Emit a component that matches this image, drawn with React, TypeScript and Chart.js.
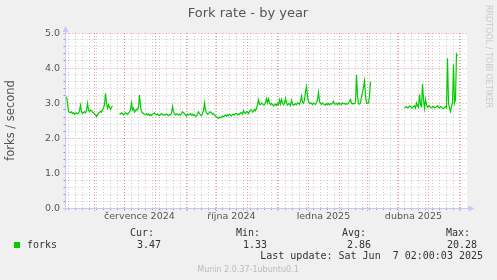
import React, { useEffect, useRef } from "react";
import Chart from "chart.js/auto";

// ---- data ----
const START = Date.UTC(2024, 4, 3, 2, 0, 3); // 400 days before last update
const DAY = 86400000;
const SPAN_DAYS = 400;

// Daily fork-rate readings (forks / second), grouped in the three periods with data.
const period1StartDay = 1;
const period1Rates = [
  3.18, 3.0, 2.75, 2.74, 2.72, 2.75, 2.7, 2.72, 2.68, 2.71, 2.72, 2.69, 2.7, 2.78, 2.94, 2.75, 2.7, 2.73, 2.75, 2.72,
  2.8, 2.99, 2.8, 2.75, 2.8, 2.78, 2.74, 2.72, 2.69, 2.66, 2.61, 2.66, 2.7, 2.73, 2.76, 2.74, 2.8, 2.85, 2.95, 3.28,
  3.0, 2.85, 2.95, 2.88, 2.82, 2.88, 2.92,
];
const period2StartDay = 54;
const period2Rates = [
  2.7, 2.68, 2.72, 2.7, 2.66, 2.69, 2.72, 2.7, 2.67, 2.71, 2.75, 2.8, 3.0, 2.8, 2.85, 2.74, 2.78, 2.82, 2.8, 2.9,
  3.23, 2.9, 2.75, 2.72, 2.7, 2.67, 2.66, 2.7, 2.66, 2.68, 2.64, 2.67, 2.64, 2.68, 2.7, 2.72, 2.67, 2.66, 2.69, 2.65,
  2.64, 2.67, 2.7, 2.68, 2.65, 2.67, 2.66, 2.69, 2.65, 2.64, 2.67, 2.66, 2.7, 2.9, 2.74, 2.7, 2.66, 2.69, 2.68, 2.65,
  2.68, 2.66, 2.7, 2.75, 2.72, 2.7, 2.66, 2.63, 2.68, 2.66, 2.68, 2.7, 2.65, 2.68, 2.64, 2.66, 2.63, 2.62, 2.68, 2.75,
  2.7, 2.66, 2.64, 2.7, 2.78, 3.0, 2.8, 2.72, 2.68, 2.7, 2.73, 2.75, 2.72, 2.68, 2.7, 2.65, 2.63, 2.6, 2.58, 2.56,
  2.6, 2.58, 2.6, 2.63, 2.61, 2.63, 2.66, 2.62, 2.66, 2.64, 2.68, 2.65, 2.63, 2.67, 2.68, 2.66, 2.7, 2.7, 2.66, 2.69,
  2.68, 2.72, 2.72, 2.68, 2.78, 2.72, 2.7, 2.75, 2.74, 2.7, 2.76, 2.8, 2.8, 2.74, 2.76, 2.82, 2.78, 2.85, 2.95, 3.09,
  2.96, 2.95, 3.0, 2.98, 2.94, 2.95, 3.0, 3.13, 3.0, 3.12, 3.0, 2.95, 2.99, 2.96, 2.92, 2.94, 2.97, 2.93, 2.98, 2.95,
  3.09, 2.97, 3.1, 3.0, 2.95, 3.0, 3.13, 3.0, 2.94, 2.98, 2.97, 2.93, 3.08, 2.97, 2.94, 2.96, 2.98, 2.95, 3.0, 2.99,
  2.96, 3.05, 3.2, 3.02, 2.99, 3.1, 3.32, 3.47, 3.2, 3.04, 2.98, 3.0, 2.99, 2.95, 3.0, 2.98, 2.96, 3.0, 3.1, 3.3,
  3.05, 2.99, 2.96, 3.0, 2.97, 2.95, 2.94, 2.98, 2.96, 2.99, 2.95, 2.98, 2.97, 3.0, 3.05, 2.98, 2.97, 2.99, 2.95, 3.0,
  2.97, 2.98, 2.96, 3.0, 2.98, 2.99, 2.96, 2.98, 2.97, 3.0, 3.05, 3.1, 3.0, 2.97, 2.99, 2.98, 3.0, 3.8, 3.2, 2.98,
  2.97, 3.0, 3.18, 3.3, 3.45, 3.64, 3.2, 3.0, 2.99, 3.0, 3.2, 3.61,
];
const period3StartDay = 339;
const period3Rates = [
  2.85, 2.88, 2.9, 2.86, 2.87, 2.92, 2.9, 2.88, 2.86, 2.9, 2.92, 2.85, 3.0, 2.92, 2.88, 3.25, 2.95, 2.9, 3.54, 3.1,
  2.85, 3.1, 2.95, 2.88, 2.9, 2.92, 2.87, 2.86, 2.89, 2.9, 2.86, 2.88, 2.9, 2.92, 2.88, 2.86, 2.9, 2.88, 2.85, 2.84,
  2.87, 2.9, 2.86, 4.28, 3.0, 2.85, 2.75, 2.9, 3.0, 4.1, 3.0, 3.1, 4.4, 4.35,
];
const periods = [
  { start: period1StartDay, rates: period1Rates },
  { start: period2StartDay, rates: period2Rates },
  { start: period3StartDay, rates: period3Rates },
];

const yMajorTicks = [0, 1, 2, 3, 4, 5];
const yTickLabels = ["0.0", "1.0", "2.0", "3.0", "4.0", "5.0"];
const xLabelMonths: [number, number][] = [[2024, 6], [2024, 9], [2025, 0], [2025, 3]];
const xLabels = ["července 2024", "října 2024", "ledna 2025", "dubna 2025"];

const title = "Fork rate - by year";
const yAxisTitle = "forks / second";
const seriesName = "forks";
const statLabels = ["Cur:", "Min:", "Avg:", "Max:"];
const statValues = ["3.47", "1.33", "2.86", "20.28"];
const lastUpdate = "Last update: Sat Jun  7 02:00:03 2025";
const footer = "Munin 2.0.37-1ubuntu0.1";
const sideText = "RRDTOOL / TOBI OETIKER";

const toDay = (t: number) => (t - START) / DAY;

const monthBoundaries: number[] = [];
for (let m = 0; m < 14; m++) {
  const d = toDay(Date.UTC(2024, 5 + m, 1));
  if (d > 0 && d < SPAN_DAYS) monthBoundaries.push(d);
}
const weekLines: number[] = [];
for (let t = Date.UTC(2024, 4, 6); toDay(t) < SPAN_DAYS; t += 7 * DAY) weekLines.push(toDay(t));

export default function App() {
  const ref = useRef<HTMLCanvasElement>(null);
  useEffect(() => {
    document.body.style.margin = "0";
    const canvas = ref.current!;
    const points: { x: number; y: number | null }[] = [];
    periods.forEach((p, pi) => {
      if (pi > 0) points.push({ x: p.start - 2, y: null });
      p.rates.forEach((v, i) => points.push({ x: p.start + i, y: v }));
    });

    const gridPlugin = {
      id: "rrdgrid",
      beforeDraw(chart: any) {
        const { ctx, chartArea: a, scales } = chart;
        const xs = scales.x, ys = scales.y;
        ctx.save();
        ctx.fillStyle = "#F0F0F0";
        ctx.fillRect(0, 0, chart.width, chart.height);
        ctx.fillStyle = "#FFFFFF";
        ctx.fillRect(Math.floor(a.left), a.top, a.right - a.left + 2, a.bottom - a.top);
        const vline = (px: number, color: string, dash: number[], y0: number, y1: number) => {
          const x = Math.floor(px) + 0.5;
          ctx.strokeStyle = color;
          ctx.setLineDash(dash);
          ctx.beginPath();
          ctx.moveTo(x, y0);
          ctx.lineTo(x, y1);
          ctx.stroke();
        };
        const hline = (py: number, color: string, dash: number[], x0: number, x1: number) => {
          const y = Math.floor(py) + 0.5;
          ctx.strokeStyle = color;
          ctx.setLineDash(dash);
          ctx.beginPath();
          ctx.moveTo(x0, y);
          ctx.lineTo(x1, y);
          ctx.stroke();
        };
        ctx.lineWidth = 1;
        const minor = "rgba(120,120,120,0.38)";
        const major = "rgba(240,50,50,0.5)";
        for (let v = 0.2; v < 5; v += 0.2) {
          if (Math.abs(v - Math.round(v)) < 0.01) continue;
          const py = ys.getPixelForValue(v);
          hline(py, minor, [1, 2], a.left, a.right + 2);
          hline(py, "rgba(90,90,90,0.6)", [], a.left - 2, a.left);
        }
        for (const d of weekLines) {
          const px = xs.getPixelForValue(d);
          vline(px, minor, [1, 2], a.top, a.bottom);
          vline(px, "rgba(90,90,90,0.6)", [], a.bottom, a.bottom + 2);
        }
        for (const v of yMajorTicks) {
          const py = ys.getPixelForValue(v);
          hline(py, major, [1, 2], a.left - 2, a.right + 2);
        }
        for (const d of monthBoundaries) {
          const px = xs.getPixelForValue(d);
          vline(px, major, [1, 2], a.top, a.bottom + 3);
        }
        ctx.setLineDash([]);
        const axis = "#C4C8FF";
        ctx.strokeStyle = axis;
        ctx.fillStyle = axis;
        const ax = Math.floor(a.left) + 0.5;
        const ay = Math.floor(a.bottom) + 0.5;
        ctx.beginPath();
        ctx.moveTo(ax, a.bottom + 3);
        ctx.lineTo(ax, a.top - 3);
        ctx.moveTo(a.left - 3, ay);
        ctx.lineTo(a.right + 4, ay);
        ctx.stroke();
        ctx.beginPath();
        ctx.moveTo(ax - 3, a.top - 1);
        ctx.lineTo(ax + 3, a.top - 1);
        ctx.lineTo(ax, a.top - 7);
        ctx.closePath();
        ctx.fill();
        ctx.beginPath();
        ctx.moveTo(a.right + 3, ay - 3);
        ctx.lineTo(a.right + 3, ay + 3);
        ctx.lineTo(a.right + 9, ay);
        ctx.closePath();
        ctx.fill();
        ctx.restore();
      },
      afterDraw(chart: any) {
        const { ctx, chartArea: a, scales } = chart;
        const xs = scales.x, ys = scales.y;
        ctx.save();
        ctx.textBaseline = "middle";
        ctx.fillStyle = "#555";
        ctx.font = "13px 'DejaVu Sans'";
        ctx.textAlign = "center";
        ctx.fillText(title, 248, 14);
        ctx.font = "9.5px 'DejaVu Sans'";
        ctx.textAlign = "right";
        yMajorTicks.forEach((v, i) => ctx.fillText(yTickLabels[i], 60, ys.getPixelForValue(v) + 0.5));
        ctx.textAlign = "center";
        xLabelMonths.forEach(([y, m], i) => {
          const d = toDay(Date.UTC(y, m, 1)) + 15;
          ctx.fillText(xLabels[i], xs.getPixelForValue(d), 217);
        });
        ctx.save();
        ctx.translate(11, (a.top + a.bottom) / 2);
        ctx.rotate(-Math.PI / 2);
        ctx.font = "11.5px 'DejaVu Sans'";
        ctx.textAlign = "center";
        ctx.fillText(yAxisTitle, 0, 0);
        ctx.restore();
        ctx.save();
        ctx.translate(488, 5);
        ctx.rotate(Math.PI / 2);
        ctx.fillStyle = "#C8C8C8";
        ctx.font = "8px 'DejaVu Sans'";
        ctx.textAlign = "left";
        ctx.fillText(sideText, 0, 0);
        ctx.restore();
        ctx.fillStyle = "#00CC00";
        ctx.fillRect(14, 242, 6, 6);
        ctx.fillStyle = "#333";
        ctx.font = "10px 'DejaVu Sans Mono'";
        ctx.textAlign = "left";
        ctx.fillText(seriesName, 27, 245);
        const labelRight = [154, 260, 366, 470];
        const valueRight = [161, 267, 371, 477];
        statLabels.forEach((s, i) => {
          ctx.textAlign = "right";
          ctx.fillText(s, labelRight[i], 233.5);
          ctx.fillText(statValues[i], valueRight[i], 245);
        });
        ctx.textAlign = "right";
        ctx.fillText(lastUpdate, 483, 256.5);
        ctx.fillStyle = "#BBBBBB";
        ctx.font = "8px 'DejaVu Sans'";
        ctx.textAlign = "center";
        ctx.fillText(footer, 248, 270);
        ctx.restore();
      },
    };

    const chart = new Chart(canvas, {
      type: "line",
      data: {
        datasets: [
          {
            label: seriesName,
            data: points as any,
            borderColor: "#00CC00",
            borderWidth: 1.2,
            pointRadius: 0,
            tension: 0,
            spanGaps: false,
          },
        ],
      },
      options: {
        animation: false,
        responsive: false,
        devicePixelRatio: 1,
        layout: { padding: { left: 65.5, right: 31.5, top: 33, bottom: 72 } },
        plugins: { legend: { display: false }, tooltip: { enabled: false }, title: { display: false } },
        scales: {
          x: { type: "linear", min: 0, max: SPAN_DAYS, display: false },
          y: { type: "linear", min: 0, max: 5, display: false },
        },
      },
      plugins: [gridPlugin],
    });
    return () => chart.destroy();
  }, []);
  return <canvas ref={ref} width={497} height={280} style={{ display: "block", width: 497, height: 280 }} />;
}
